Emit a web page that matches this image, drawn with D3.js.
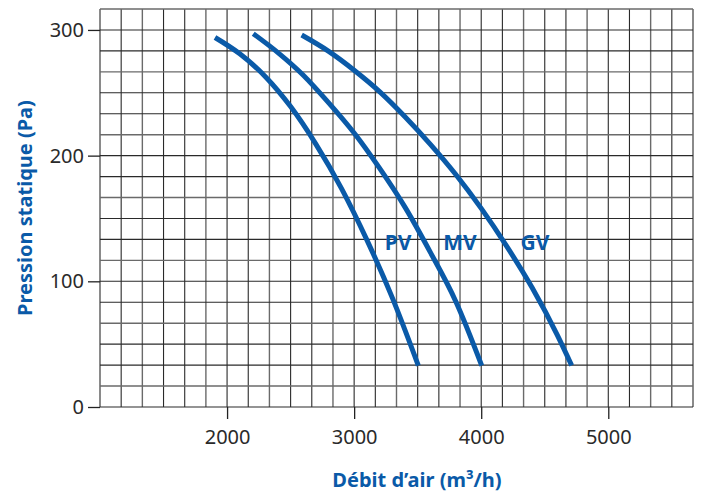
<!DOCTYPE html>
<html>
<head>
<meta charset="utf-8">
<script src="https://cdn.jsdelivr.net/npm/d3@7"></script>
<style>
  body { margin: 0; background: #fff; }
  text { font-family: "Noto Sans", "Open Sans", sans-serif; }
</style>
</head>
<body>
<div id="chart"></div>
<script>
// courbes debit / pression
const pvFlow = [1905, 2100, 2300, 2500, 2700, 2900, 3100, 3300, 3505];
const pvPress = [294, 281, 263, 239, 209, 174, 133, 87, 33];
const mvFlow = [2206, 2400, 2600, 2800, 3000, 3200, 3400, 3600, 3800, 4004];
const mvPress = [297, 282, 264, 242, 218, 190, 159, 123, 84, 33];
const gvFlow = [2587, 2800, 3000, 3200, 3400, 3600, 3800, 4000, 4200, 4400, 4600, 4712];
const gvPress = [296, 283, 268, 251, 231, 209, 185, 158, 128, 95, 57, 33];
const curveNames = ["PV", "MV", "GV"];
const labelFlow = [3345, 3833, 4423];
const labelPress = [125, 125, 125];
const xTicks = [2000, 3000, 4000, 5000];
const yTicks = [0, 100, 200, 300];

const width = 704, height = 494;
const blue = "#0a5aa8";

const svg = d3.select("#chart")
    .append("svg")
    .attr("width", width)
    .attr("height", height);

// echelles - grille de 1000/6 et 100/6
const x = d3.scaleLinear().domain([1000, 1000 + 28 * 1000 / 6]).range([100, 693]);
const y = d3.scaleLinear().domain([0, 19 * 100 / 6]).range([407, 9]);

const grid = svg.append("g").attr("id", "grid");

// lignes verticales
grid.selectAll("line.v")
    .data(d3.range(29).map(i => 1000 + i * 1000 / 6))
    .enter()
    .append("line")
    .attr("class", "v")
    .attr("x1", d => x(d)).attr("x2", d => x(d))
    .attr("y1", y.range()[1]).attr("y2", y.range()[0])
    .attr("stroke", (d, i) => i % 3 === 2 ? "#6a6a6a" : "#2a2a2a")
    .attr("stroke-width", (d, i) => i % 3 === 2 ? 1.4 : 1.1);

// lignes horizontales
grid.selectAll("line.h")
    .data(d3.range(20).map(i => i * 100 / 6))
    .enter()
    .append("line")
    .attr("class", "h")
    .attr("x1", x.range()[0]).attr("x2", x.range()[1])
    .attr("y1", d => y(d)).attr("y2", d => y(d))
    .attr("stroke", (d, i) => i % 3 === 1 ? "#6a6a6a" : "#2a2a2a")
    .attr("stroke-width", (d, i) => i % 3 === 1 ? 1.4 : 1.1);

// axes
const xAxis = svg.append("g")
    .attr("transform", `translate(0,${y(0)})`)
    .call(d3.axisBottom(x).tickValues(xTicks).tickSize(12).tickPadding(11).tickFormat(d3.format("d")));
const yAxis = svg.append("g")
    .attr("transform", `translate(${x.range()[0]},0)`)
    .call(d3.axisLeft(y).tickValues(yTicks).tickSize(12).tickPadding(4).tickFormat(d3.format("d")));

[xAxis, yAxis].forEach(a => {
    a.select(".domain").remove();
    a.selectAll(".tick line").attr("stroke", "#222").attr("stroke-width", 1.3);
    a.selectAll(".tick text")
        .attr("fill", "#2a2a2a")
        .attr("font-size", "20px")
        .style("font-family", "'Noto Sans', sans-serif");
});

// courbes
const line = d3.line()
    .x(d => x(d[0]))
    .y(d => y(d[1]))
    .curve(d3.curveMonotoneX);

const curves = [
    d3.zip(pvFlow, pvPress),
    d3.zip(mvFlow, mvPress),
    d3.zip(gvFlow, gvPress)
];

svg.append("g").selectAll("path.curve")
    .data(curves)
    .enter()
    .append("path")
    .attr("class", "curve")
    .attr("d", line)
    .attr("fill", "none")
    .attr("stroke", blue)
    .attr("stroke-width", 5);

// etiquettes PV / MV / GV
svg.append("g").selectAll("text.lbl")
    .data(curveNames)
    .enter()
    .append("text")
    .attr("class", "lbl")
    .attr("x", (d, i) => x(labelFlow[i]))
    .attr("y", (d, i) => y(labelPress[i]))
    .attr("text-anchor", "middle")
    .attr("fill", blue)
    .attr("font-size", "21px")
    .attr("font-weight", "bold")
    .text(d => d);

// titres des axes
svg.append("text")
    .attr("x", 417)
    .attr("y", 487)
    .attr("text-anchor", "middle")
    .attr("fill", blue)
    .attr("font-size", "20px")
    .attr("font-weight", "bold")
    .text("Débit d’air (m³/h)");

svg.append("text")
    .attr("transform", "translate(32,208) rotate(-90)")
    .attr("text-anchor", "middle")
    .attr("fill", blue)
    .attr("font-size", "20px")
    .attr("font-weight", "bold")
    .text("Pression statique (Pa)");
</script>
</body>
</html>
